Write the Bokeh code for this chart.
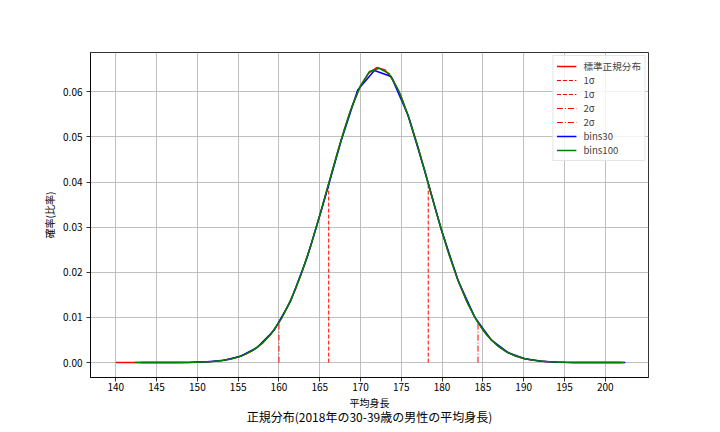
from bokeh.plotting import figure
from bokeh.models import (Range1d, FixedTicker, PrintfTickFormatter, Legend, LegendItem, LinearAxis)
from bokeh.embed import file_html
from bokeh.resources import INLINE

FONT = "Noto Sans CJK JP"

# standard normal curve (mean 172.2, sigma 6.1)
norm_x = list(range(140, 203))
norm_y = [0.00000006, 0.00000014, 0.00000031, 0.00000069, 0.0000015, 0.0000032, 0.0000065,
          0.0000129, 0.000025, 0.000047, 0.000087, 0.000156, 0.000272, 0.000462, 0.000763,
          0.001228, 0.001924, 0.002934, 0.004356, 0.006293, 0.00885, 0.01212, 0.01616,
          0.02098, 0.0265, 0.03259, 0.03902, 0.04547, 0.0516, 0.05699, 0.06128, 0.06415,
          0.06536, 0.06484, 0.06261, 0.05886, 0.05386, 0.04798, 0.04162, 0.03514, 0.02887,
          0.0231, 0.01799, 0.01364, 0.01007, 0.007235, 0.00506, 0.003446, 0.002284,
          0.001474, 0.000926, 0.000566, 0.000337, 0.000195, 0.00011, 0.0000605, 0.0000324,
          0.0000169, 0.0000086, 0.0000042, 0.000002, 0.0000009, 0.0000004]

# sigma lines
sigma1_x = [166.1, 178.3]
sigma1_h = [0.0397, 0.0397]
sigma2_x = [160.0, 184.4]
sigma2_h = [0.00885, 0.00885]

# histogram with 30 bins (bin centers / density)
bins30_x = [143.0, 145.05, 147.1, 149.15, 151.2, 153.25, 155.3, 157.35, 159.4, 161.45,
            163.5, 165.55, 167.6, 169.65, 171.7, 173.75, 175.8, 177.85, 179.9, 181.95,
            184.0, 186.05, 188.1, 190.15, 192.2, 194.25, 196.3, 198.35, 200.4, 202.45]
bins30_y = [0.0000007, 0.0000033, 0.0000138, 0.000052, 0.000175, 0.000524, 0.00141, 0.00338,
            0.00715, 0.01370, 0.02350, 0.0359, 0.0490, 0.0604, 0.0647, 0.0634, 0.0549,
            0.0426, 0.0295, 0.01824, 0.01007, 0.00497, 0.00219, 0.00086, 0.000303, 0.000095,
            0.0000267, 0.0000067, 0.0000015, 0.0000003]

# histogram with 100 bins (bin centers / density)
bins100_x = [142.3, 143.5, 144.7, 145.9, 147.1, 148.3, 149.5, 150.7, 151.9, 153.1, 154.3,
             155.5, 156.7, 157.9, 159.1, 160.3, 161.5, 162.7, 163.9, 165.1, 166.3, 167.5,
             168.7, 169.9, 171.1, 172.3, 173.5, 174.7, 175.9, 177.1, 178.3, 179.5, 180.7,
             181.9, 183.1, 184.3, 185.5, 186.7, 187.9, 189.1, 190.3, 191.5, 192.7, 193.9,
             195.1, 196.3, 197.5, 198.7, 199.9, 201.1, 202.3]
bins100_y = [0.0000004, 0.000001, 0.0000025, 0.000006, 0.0000138, 0.00003, 0.000064, 0.000131,
             0.000257, 0.000486, 0.000883, 0.00154, 0.00259, 0.00419, 0.00652, 0.00976,
             0.01405, 0.01945, 0.02592, 0.03322, 0.04097, 0.0486, 0.05547, 0.06100, 0.06450,
             0.0652, 0.0640, 0.06014, 0.05441, 0.04736, 0.03967, 0.03196, 0.02477, 0.01847,
             0.01325, 0.00914, 0.00607, 0.00388, 0.00238, 0.00141, 0.000801, 0.000438,
             0.000231, 0.000117, 0.0000569, 0.0000267, 0.000012, 0.0000052, 0.0000022,
             0.0000009, 0.0000003]

x_ticks = [140, 145, 150, 155, 160, 165, 170, 175, 180, 185, 190, 195, 200]
y_ticks = [0.0, 0.01, 0.02, 0.03, 0.04, 0.05, 0.06]

p = figure(output_backend="svg", toolbar_location=None,
           frame_width=558, frame_height=325,
           min_border_left=90, min_border_top=52, min_border_right=60, min_border_bottom=5,
           x_range=Range1d(136.9, 205.3), y_range=Range1d(-0.0033, 0.0687))
p.background_fill_color = "white"
p.border_fill_color = "white"
p.outline_line_color = "black"
p.outline_line_width = 0.8

r_norm = p.line(norm_x, norm_y, line_color="#ff0000", line_width=1.5)
seg_renderers = []
for i, (xv, hv) in enumerate(zip(sigma1_x, sigma1_h)):
    seg_renderers.append(("1σ" + " " * i, p.line(x=[xv, xv], y=[0, hv],
                          line_color="#ff0000", line_width=1, line_dash="4 2")))
for i, (xv, hv) in enumerate(zip(sigma2_x, sigma2_h)):
    seg_renderers.append(("2σ" + " " * i, p.line(x=[xv, xv], y=[0, hv],
                          line_color="#ff0000", line_width=1, line_dash="6 2 1 2")))
r_b30 = p.line(bins30_x, bins30_y, line_color="#0000ff", line_width=1.5)
r_b100 = p.line(bins100_x, bins100_y, line_color="#008000", line_width=1.5)

items = [LegendItem(label="標準正規分布", renderers=[r_norm])]
for lab, r in seg_renderers:
    items.append(LegendItem(label=lab, renderers=[r]))
items.append(LegendItem(label="bins30", renderers=[r_b30]))
items.append(LegendItem(label="bins100", renderers=[r_b100]))

legend = Legend(items=items, location="top_right")
legend.label_text_font = FONT
legend.label_text_font_size = "9.6px"
legend.label_height = 14
legend.glyph_height = 14
legend.glyph_width = 20
legend.spacing = 0
legend.padding = 3
legend.margin = 3
legend.label_standoff = 7
legend.border_line_color = "#cccccc"
legend.border_line_width = 1
legend.background_fill_alpha = 0.8
p.add_layout(legend)

for ax in (p.xaxis, p.yaxis):
    ax.axis_line_color = "black"
    ax.axis_line_width = 0.8
    ax.major_tick_line_color = "black"
    ax.major_tick_line_width = 0.8
    ax.major_tick_in = 0
    ax.major_tick_out = 4
    ax.minor_tick_line_color = None
    ax.major_label_text_font = FONT
    ax.major_label_text_font_size = "10px"
    ax.major_label_text_color = "black"
    ax.axis_label_text_font = FONT
    ax.axis_label_text_font_size = "10px"
    ax.axis_label_text_font_style = "normal"
    ax.axis_label_text_color = "black"

p.xaxis.ticker = FixedTicker(ticks=x_ticks)
p.yaxis.ticker = FixedTicker(ticks=y_ticks)
p.yaxis.formatter = PrintfTickFormatter(format="%.2f")
p.xaxis.axis_label = "平均身長"
p.yaxis.axis_label = "確率(比率)"
p.xaxis.major_label_standoff = 1
p.xaxis.axis_label_standoff = 1
p.yaxis.major_label_standoff = 4
p.yaxis.axis_label_standoff = 3

p.grid.grid_line_color = "#b0b0b0"
p.grid.grid_line_width = 0.8
p.xgrid.ticker = FixedTicker(ticks=x_ticks)
p.ygrid.ticker = FixedTicker(ticks=y_ticks)

# bottom title as the label of a bare extra axis
title_axis = LinearAxis(ticker=FixedTicker(ticks=[]), axis_line_color=None,
                        major_tick_line_color=None, minor_tick_line_color=None,
                        major_tick_in=0, major_tick_out=0,
                        major_label_text_font_size="0px",
                        axis_label="正規分布(2018年の30-39歳の男性の平均身長)",
                        axis_label_text_font=FONT, axis_label_text_font_size="12px",
                        axis_label_text_font_style="normal", axis_label_text_color="black",
                        axis_label_standoff=-5, major_label_standoff=0)
p.add_layout(title_axis, "below")

open("out.html", "w").write(file_html(p, INLINE))
